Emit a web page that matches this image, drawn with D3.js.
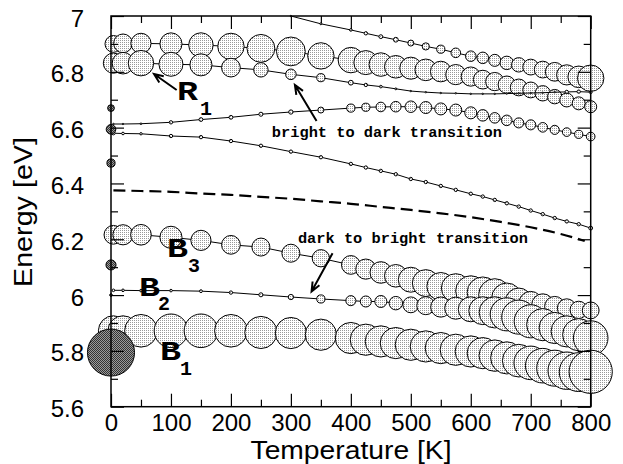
<!DOCTYPE html>
<html><head><meta charset="utf-8">
<script src="https://cdn.jsdelivr.net/npm/d3@7"></script>
<style>body{margin:0;background:#fff}svg{display:block}</style>
</head><body>
<svg id="c" width="623" height="464"></svg>
<script>
// ---------------- DATA ----------------
// Temperature grid [K]
const temps = [4,20,50,100,150,200,250,300,350,400,425,450,475,500,525,550,575,600,620,640,660,680,700,720,740,760,780,800];

// Excitation energies [eV] and relative oscillator strengths for each state
const eTop = [null,null,null,null,null,null,null,7.000,6.972,6.950,6.938,6.926,6.915,6.903,6.891,6.881,6.868,6.856,6.850,6.841,6.832,6.825,6.817,6.808,6.800,6.789,6.782,6.777];
const fTop = [null,null,null,null,null,null,null,0.03,0.04,0.055,0.07,0.08,0.10,0.125,0.15,0.17,0.20,0.22,0.24,0.25,0.28,0.30,0.33,0.35,0.39,0.42,0.45,0.55];

const eR1a = [6.900,6.902,6.902,6.900,6.896,6.891,6.884,6.873,6.857,6.842,6.833,6.826,6.818,6.813,6.807,6.801,6.790,6.783,6.772,6.765,6.754,6.744,6.735,6.723,6.711,6.699,6.687,6.675];
const fR1a = [0.35,0.39,0.42,0.46,0.51,0.55,0.58,0.60,0.55,0.53,0.50,0.49,0.47,0.46,0.45,0.43,0.42,0.40,0.39,0.38,0.36,0.35,0.33,0.32,0.30,0.29,0.27,0.25];

const eR1b = [6.831,6.831,6.831,6.827,6.825,6.815,6.807,6.791,6.779,6.761,6.753,6.747,6.739,6.731,6.727,6.724,6.723,6.721,6.721,6.721,6.722,6.723,6.724,6.725,6.727,6.728,6.729,6.727];
const fR1b = [0.42,0.45,0.53,0.50,0.46,0.39,0.30,0.22,0.17,0.10,0.07,0.055,0.04,0.03,0.03,0.03,0.03,0.03,0.03,0.03,0.03,0.03,0.03,0.03,0.03,0.07,0.07,0.06];

const eM1 = [6.613,6.613,6.614,6.619,6.629,6.637,6.648,6.656,6.663,6.670,6.673,6.674,6.675,6.675,6.672,6.667,6.663,6.653,6.644,6.635,6.626,6.617,6.610,6.601,6.592,6.584,6.576,6.568];
const fM1 = [0.03,0.03,0.035,0.07,0.08,0.08,0.085,0.09,0.125,0.17,0.17,0.20,0.22,0.24,0.25,0.25,0.25,0.25,0.24,0.22,0.22,0.21,0.21,0.20,0.19,0.18,0.17,0.18];

const eM2 = [6.580,6.579,6.578,6.570,6.566,6.552,6.535,6.514,6.494,6.470,6.457,6.445,6.433,6.416,6.405,6.391,6.377,6.363,6.353,6.341,6.329,6.317,6.303,6.290,6.276,6.264,6.254,6.240];
const fM2 = [0.07,0.055,0.05,0.07,0.07,0.07,0.07,0.07,0.07,0.07,0.07,0.07,0.07,0.07,0.07,0.07,0.07,0.07,0.07,0.07,0.07,0.07,0.07,0.07,0.07,0.07,0.07,0.08];

const eB3 = [6.216,6.216,6.216,6.207,6.196,6.180,6.172,6.150,6.132,6.108,6.093,6.081,6.069,6.055,6.043,6.031,6.025,6.015,6.009,6.001,5.989,5.977,5.971,5.965,5.959,5.953,5.947,5.945];
const fB3 = [0.39,0.42,0.43,0.46,0.42,0.39,0.375,0.375,0.36,0.39,0.42,0.45,0.47,0.52,0.56,0.58,0.60,0.63,0.65,0.67,0.63,0.56,0.49,0.46,0.42,0.39,0.36,0.35];

const eB2 = [6.017,6.017,6.016,6.016,6.014,6.009,6.001,5.993,5.986,5.980,5.977,5.977,5.971,5.965,5.962,5.957,5.953,5.949,5.944,5.938,5.931,5.921,5.906,5.894,5.882,5.870,5.858,5.846];
const fB2 = [0.055,0.055,0.055,0.055,0.06,0.07,0.085,0.11,0.17,0.21,0.23,0.25,0.28,0.33,0.375,0.42,0.46,0.52,0.58,0.65,0.69,0.71,0.69,0.67,0.65,0.65,0.67,0.72];

const eB1 = [5.872,5.872,5.872,5.872,5.872,5.872,5.866,5.864,5.858,5.846,5.840,5.834,5.828,5.822,5.816,5.810,5.804,5.798,5.792,5.783,5.775,5.765,5.757,5.747,5.738,5.729,5.724,5.725];
const fB1 = [0.625,0.625,0.68,0.70,0.70,0.68,0.67,0.65,0.65,0.65,0.65,0.65,0.65,0.65,0.65,0.65,0.65,0.65,0.65,0.655,0.67,0.68,0.70,0.72,0.75,0.78,0.81,0.90];

// Dashed reference curve
const dashT = [4,50,100,150,200,250,300,350,400,450,500,550,600,650,700,750,790];
const dashE = [6.375,6.373,6.370,6.364,6.359,6.352,6.345,6.336,6.327,6.316,6.305,6.293,6.279,6.262,6.243,6.219,6.194];

// Static (T = 0) states
const staticE = [6.670,6.594,6.473,6.108,6.000,5.794];
const staticF = [0.14,0.20,0.17,0.21,0.055,0.98];

// Axis ticks
const xTicks = [0,100,200,300,400,500,600,700,800];
const xMinor = [50,150,250,350,450,550,650,750];
const yTicks = [5.6,5.8,6,6.2,6.4,6.6,6.8,7];
const yMinor = [5.7,5.9,6.1,6.3,6.5,6.7,6.9];
const yLabels = ["5.6","5.8","6","6.2","6.4","6.6","6.8","7"];

// ---------------- DRAW ----------------
const m = {l:111, r:590.7, t:16, b:406.7};
const x = d3.scaleLinear().domain([0,800]).range([m.l,m.r]);
const y = d3.scaleLinear().domain([5.6,7]).range([m.b,m.t]);
const rS = d3.scaleLinear().domain([0,1]).range([0,24]);

const svg = d3.select('#c');
svg.append('rect').attr('width',623).attr('height',464).attr('fill','#fff');
const defs = svg.append('defs');
const pl = defs.append('pattern').attr('id','lt').attr('patternUnits','userSpaceOnUse').attr('width',2).attr('height',2);
pl.append('rect').attr('width',2).attr('height',2).attr('fill','#fff');
pl.append('rect').attr('x',0).attr('y',0).attr('width',1).attr('height',1).attr('fill','#999');
const pd = defs.append('pattern').attr('id','dk').attr('patternUnits','userSpaceOnUse').attr('width',2).attr('height',2);
pd.append('rect').attr('width',2).attr('height',2).attr('fill','#9a9a9a');
pd.append('rect').attr('x',0).attr('y',0).attr('width',1).attr('height',1).attr('fill','#333');
pd.append('rect').attr('x',1).attr('y',1).attr('width',1).attr('height',1).attr('fill','#333');
defs.append('clipPath').attr('id','pc').append('rect')
  .attr('x',m.l).attr('y',m.t).attr('width',m.r-m.l).attr('height',m.b-m.t);

const series = [
  {e:eTop,f:fTop},{e:eR1a,f:fR1a},{e:eR1b,f:fR1b},{e:eM1,f:fM1},
  {e:eM2,f:fM2},{e:eB3,f:fB3},{e:eB2,f:fB2},{e:eB1,f:fB1}
];
const line = d3.line().x(d=>x(d.t)).y(d=>y(d.e));
const gData = svg.append('g');

// dashed curve
gData.append('path')
  .datum(dashT.map((t,i)=>({t, e:dashE[i]})))
  .attr('d', d3.line().x(d=>x(d.t)).y(d=>y(d.e)).curve(d3.curveMonotoneX))
  .attr('fill','none').attr('stroke','#000').attr('stroke-width',2.2)
  .attr('stroke-dasharray','12,6').attr('clip-path','url(#pc)');

series.forEach(s=>{
  const pts = temps.map((t,i)=>({t, e:s.e[i], f:s.f[i]})).filter(p=>p.e!=null);
  const g = gData.append('g');
  g.append('path').datum(pts).attr('d',line)
    .attr('fill','none').attr('stroke','#000').attr('stroke-width',1)
    .attr('clip-path','url(#pc)');
  g.selectAll('circle').data(pts).join('circle')
    .attr('cx',d=>x(d.t)).attr('cy',d=>y(d.e)).attr('r',d=>rS(d.f))
    .attr('fill','url(#lt)').attr('stroke','#000').attr('stroke-width',1);
});

gData.append('g').selectAll('circle')
  .data(staticE.map((e,i)=>({t:0,e,f:staticF[i]})))
  .join('circle')
  .attr('cx',d=>x(d.t)).attr('cy',d=>y(d.e)).attr('r',d=>rS(d.f))
  .attr('fill','url(#dk)').attr('stroke','#000').attr('stroke-width',1);

// ---------------- AXES ----------------
const font = "'Liberation Sans', Arial, Helvetica, sans-serif";
function styleAxis(g){
  g.select('.domain').remove();
  g.selectAll('.tick line').attr('stroke','#000').attr('stroke-width',1.2);
  g.selectAll('text').attr('font-family',font).attr('font-size',24).attr('fill','#000');
}
svg.append('g').attr('transform',`translate(0,${m.b})`)
  .call(d3.axisBottom(x).tickValues(xTicks).tickSize(-13).tickPadding(7).tickFormat(d=>String(d)))
  .call(styleAxis);
svg.append('g').attr('transform',`translate(0,${m.b})`)
  .call(d3.axisBottom(x).tickValues(xMinor).tickSize(-7).tickFormat(''))
  .call(styleAxis);
svg.append('g').attr('transform',`translate(0,${m.t})`)
  .call(d3.axisTop(x).tickValues(xTicks).tickSize(-13).tickFormat(''))
  .call(styleAxis);
svg.append('g').attr('transform',`translate(0,${m.t})`)
  .call(d3.axisTop(x).tickValues(xMinor).tickSize(-7).tickFormat(''))
  .call(styleAxis);
const yl = svg.append('g').attr('transform',`translate(${m.l},0)`)
  .call(d3.axisLeft(y).tickValues(yTicks).tickSize(-13).tickPadding(27).tickFormat((d,i)=>yLabels[i]))
  .call(styleAxis);
yl.selectAll('text').attr('dy','0.42em');
svg.append('g').attr('transform',`translate(${m.l},0)`)
  .call(d3.axisLeft(y).tickValues(yMinor).tickSize(-7).tickFormat(''))
  .call(styleAxis);
svg.append('g').attr('transform',`translate(${m.r},0)`)
  .call(d3.axisRight(y).tickValues(yTicks).tickSize(-13).tickFormat(''))
  .call(styleAxis);
svg.append('g').attr('transform',`translate(${m.r},0)`)
  .call(d3.axisRight(y).tickValues(yMinor).tickSize(-7).tickFormat(''))
  .call(styleAxis);

svg.append('rect').attr('x',m.l).attr('y',m.t).attr('width',m.r-m.l).attr('height',m.b-m.t)
  .attr('fill','none').attr('stroke','#000').attr('stroke-width',1.5);

svg.append('text').attr('x',351).attr('y',459).attr('text-anchor','middle')
  .attr('font-family',font).attr('font-size',25)
  .attr('textLength',201).attr('lengthAdjust','spacingAndGlyphs').text('Temperature [K]');
svg.append('text').attr('transform','translate(32,212) rotate(-90)').attr('text-anchor','middle')
  .attr('font-family',font).attr('font-size',25)
  .attr('textLength',150).attr('lengthAdjust','spacingAndGlyphs').text('Energy [eV]');

// ---------------- ANNOTATIONS ----------------
const mono = "'Liberation Mono','Courier New',Courier,monospace";
const stateLabels = [
  {main:'R', sub:'1', t:110, e:6.699, dx:23, dy:15},
  {main:'B', sub:'3', t:93.3, e:6.137, dx:21, dy:15},
  {main:'B', sub:'2', t:46.7, e:5.997, dx:19, dy:14},
  {main:'B', sub:'1', t:81.7, e:5.768, dx:20, dy:15}
];
stateLabels.forEach(l=>{
  svg.append('text').attr('x',x(l.t)).attr('y',y(l.e))
    .attr('font-family',mono).attr('font-weight','bold').attr('font-size',27)
    .attr('textLength',21).attr('lengthAdjust','spacingAndGlyphs').text(l.main);
  svg.append('text').attr('x',x(l.t)+l.dx).attr('y',y(l.e)+l.dy)
    .attr('font-family',mono).attr('font-weight','bold').attr('font-size',20).text(l.sub);
});
const notes = [
  {text:'bright to dark transition', t:268.3, e:6.567},
  {text:'dark to bright transition', t:311.7, e:6.187}
];
notes.forEach(n=>{
  svg.append('text').attr('x',x(n.t)).attr('y',y(n.e))
    .attr('font-family',mono).attr('font-weight','bold').attr('font-size',15.3)
    .attr('textLength',230).attr('lengthAdjust','spacingAndGlyphs').text(n.text);
});
const arrows = [
  {t0:109.5, e0:6.735, t1:71.7, e1:6.792},
  {t0:342.8, e0:6.624, t1:306.7, e1:6.753},
  {t0:369.5, e0:6.150, t1:334.5, e1:6.013}
];
arrows.forEach(a=>{
  const x0=x(a.t0), y0=y(a.e0), x1=x(a.t1), y1=y(a.e1);
  const ang = Math.atan2(y1-y0, x1-x0);
  const L = 10, w = 0.4;
  const p = d3.path();
  p.moveTo(x0,y0); p.lineTo(x1,y1);
  p.moveTo(x1-L*Math.cos(ang-w), y1-L*Math.sin(ang-w));
  p.lineTo(x1,y1);
  p.lineTo(x1-L*Math.cos(ang+w), y1-L*Math.sin(ang+w));
  svg.append('path').attr('d',p.toString()).attr('fill','none')
    .attr('stroke','#000').attr('stroke-width',2);
});
</script>
</body></html>
